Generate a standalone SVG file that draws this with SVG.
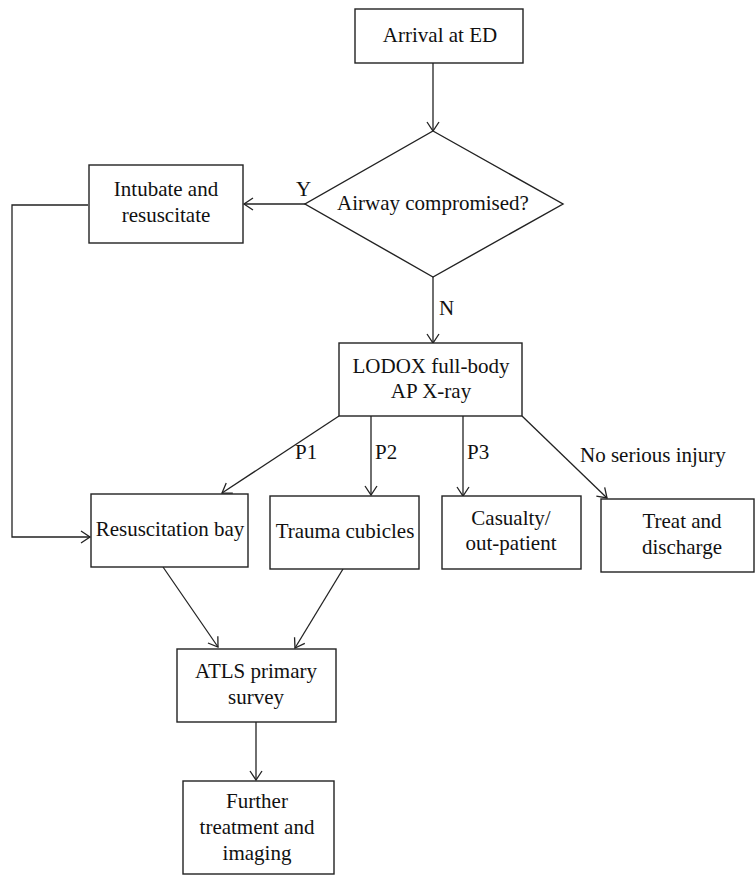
<svg xmlns="http://www.w3.org/2000/svg" width="756" height="876" viewBox="0 0 756 876">
<style>
.box{fill:#fff;stroke:#222;stroke-width:1.4}
.t{font-family:"Liberation Serif","Times New Roman",serif;font-size:21px;fill:#111;text-anchor:middle}
.l{font-family:"Liberation Serif","Times New Roman",serif;font-size:21px;fill:#111}
.c{fill:none;stroke:#222;stroke-width:1.3}
</style>
<defs>
<marker id="arr" viewBox="-11 -8 13 16" refX="0" refY="0" markerWidth="13" markerHeight="16" markerUnits="userSpaceOnUse" orient="auto">
<path d="M-9,-6 L0,0 L-9,6" fill="none" stroke="#222" stroke-width="1.3"/>
</marker>
</defs>
<g id="connectors">
<line class="c" x1="433" y1="63" x2="433" y2="131" marker-end="url(#arr)"/>
<line class="c" x1="305" y1="204" x2="244" y2="204" marker-end="url(#arr)"/>
<line class="c" x1="433" y1="277" x2="433" y2="343" marker-end="url(#arr)"/>
<path class="c" d="M88,205 H12 V537 H90" marker-end="url(#arr)"/>
<line class="c" x1="339" y1="416" x2="222" y2="493" marker-end="url(#arr)"/>
<line class="c" x1="371" y1="416" x2="371" y2="495" marker-end="url(#arr)"/>
<line class="c" x1="463" y1="416" x2="463" y2="496" marker-end="url(#arr)"/>
<line class="c" x1="522" y1="416" x2="607" y2="498" marker-end="url(#arr)"/>
<line class="c" x1="163" y1="567" x2="218" y2="647" marker-end="url(#arr)"/>
<line class="c" x1="343" y1="569" x2="295" y2="648" marker-end="url(#arr)"/>
<line class="c" x1="256" y1="722" x2="256" y2="780" marker-end="url(#arr)"/>
<text class="l" x="296" y="196">Y</text>
<text class="l" x="439" y="315">N</text>
<text class="l" x="295" y="459">P1</text>
<text class="l" x="375" y="459">P2</text>
<text class="l" x="467" y="459">P3</text>
<text class="l" x="580" y="462">No serious injury</text>
</g>
<g id="arrival">
<rect class="box" x="355" y="9" width="168" height="54"/>
<text class="t" x="440" y="42">Arrival at ED</text>
</g>
<g id="airway">
<polygon class="box" points="433,131 563,204 433,277 305,204"/>
<text class="t" x="433" y="210">Airway compromised?</text>
</g>
<g id="intubate">
<rect class="box" x="89" y="165" width="154" height="78"/>
<text class="t" x="166" y="196">Intubate and</text>
<text class="t" x="166" y="222">resuscitate</text>
</g>
<g id="lodox">
<rect class="box" x="339" y="343" width="183" height="73"/>
<text class="t" x="431" y="373">LODOX full-body</text>
<text class="t" x="431" y="398">AP X-ray</text>
</g>
<g id="resus">
<rect class="box" x="91" y="494" width="157" height="73"/>
<text class="t" x="170" y="536">Resuscitation bay</text>
</g>
<g id="trauma">
<rect class="box" x="270" y="496" width="149" height="73"/>
<text class="t" x="345" y="538">Trauma cubicles</text>
</g>
<g id="casualty">
<rect class="box" x="442" y="496" width="139" height="73"/>
<text class="t" x="511" y="525">Casualty/</text>
<text class="t" x="511" y="550">out-patient</text>
</g>
<g id="treat">
<rect class="box" x="601" y="499" width="153" height="73"/>
<text class="t" x="682" y="528">Treat and</text>
<text class="t" x="682" y="554">discharge</text>
</g>
<g id="atls">
<rect class="box" x="177" y="649" width="159" height="73"/>
<text class="t" x="256" y="678">ATLS primary</text>
<text class="t" x="256" y="704">survey</text>
</g>
<g id="further">
<rect class="box" x="183" y="781" width="151" height="93"/>
<text class="t" x="257" y="808">Further</text>
<text class="t" x="257" y="834">treatment and</text>
<text class="t" x="257" y="860">imaging</text>
</g>
</svg>
